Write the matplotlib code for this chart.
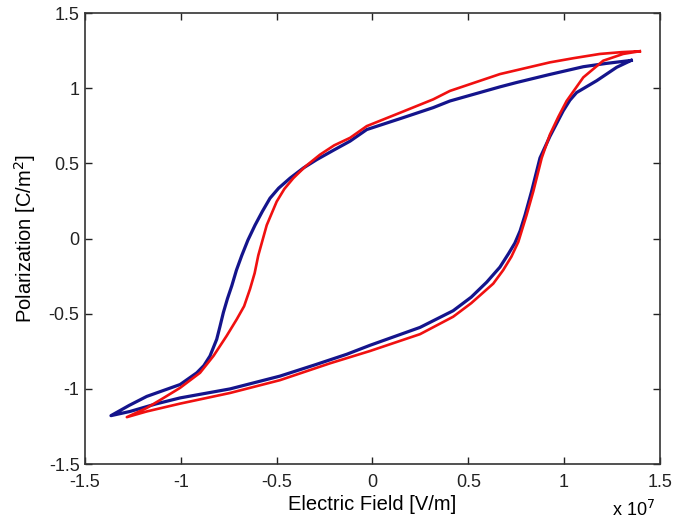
import matplotlib
matplotlib.use("Agg")
import matplotlib.pyplot as plt

plt.rcParams['font.family'] = ['Liberation Sans', 'DejaVu Sans']

# Electric field in units of 1e7 V/m, polarization in C/m^2
# Blue loop: upper branch (field decreasing), lower branch (field increasing)
E_blue_up = [1.35, 1.22, 1.10, 0.92, 0.752, 0.665, 0.404, 0.317, 0.15, -0.03, -0.117,
             -0.2, -0.291, -0.36, -0.43, -0.49, -0.535, -0.575, -0.613, -0.65,
             -0.682, -0.71, -0.734, -0.757, -0.778, -0.797, -0.813, -0.848, -0.88,
             -0.917, -1.004, -1.09, -1.178, -1.27, -1.365]
P_blue_up = [1.185, 1.165, 1.143, 1.09, 1.038, 1.009, 0.915, 0.871, 0.80, 0.725, 0.648,
             0.59, 0.525, 0.47, 0.402, 0.335, 0.268, 0.18, 0.089, -0.01,
             -0.112, -0.21, -0.313, -0.40, -0.491, -0.59, -0.67, -0.781, -0.845,
             -0.893, -0.971, -1.01, -1.05, -1.11, -1.178]
E_blue_low = [-1.365, -1.265, -1.13, -1.004, -0.743, -0.483, -0.30, -0.135, -0.013,
              0.248, 0.421, 0.515, 0.596, 0.665, 0.71, 0.743, 0.77, 0.796, 0.83,
              0.874, 0.926, 0.995, 1.03, 1.065, 1.17, 1.274, 1.35]
P_blue_low = [-1.178, -1.15, -1.10, -1.06, -1.0, -0.915, -0.84, -0.77, -0.71,
              -0.591, -0.48, -0.39, -0.29, -0.19, -0.10, -0.03, 0.05, 0.156, 0.313,
              0.536, 0.68, 0.849, 0.92, 0.971, 1.05, 1.139, 1.185]

# Red loop
E_red_up = [1.395, 1.30, 1.187, 1.05, 0.926, 0.665, 0.404, 0.317, 0.15, -0.03, -0.117,
            -0.2, -0.274, -0.35, -0.413, -0.46, -0.5, -0.552, -0.596, -0.615, -0.639,
            -0.67, -0.708, -0.761, -0.83, -0.9, -1.004, -1.09, -1.178, -1.282]
P_red_up = [1.246, 1.24, 1.228, 1.20, 1.172, 1.094, 0.982, 0.926, 0.84, 0.748, 0.67,
            0.62, 0.558, 0.48, 0.402, 0.33, 0.246, 0.089, -0.112, -0.23, -0.335,
            -0.45, -0.536, -0.647, -0.781, -0.893, -0.993, -1.06, -1.127, -1.188]
E_red_low = [-1.282, -1.178, -1.004, -0.743, -0.483, -0.222, -0.013, 0.248, 0.421,
             0.515, 0.63, 0.682, 0.725, 0.761, 0.804, 0.839, 0.883, 0.926, 0.97,
             1.013, 1.1, 1.204, 1.308, 1.395]
P_red_low = [-1.188, -1.15, -1.098, -1.027, -0.942, -0.83, -0.748, -0.636, -0.52,
             -0.43, -0.30, -0.21, -0.12, -0.022, 0.156, 0.313, 0.536, 0.692, 0.81,
             0.915, 1.072, 1.183, 1.228, 1.246]

xticks = [-1.5, -1, -0.5, 0, 0.5, 1, 1.5]
yticks = [-1.5, -1, -0.5, 0, 0.5, 1, 1.5]
xtick_labels = ['-1.5', '-1', '-0.5', '0', '0.5', '1', '1.5']
ytick_labels = ['-1.5', '-1', '-0.5', '0', '0.5', '1', '1.5']

fig = plt.figure(figsize=(6.86, 5.22), dpi=100)
ax = fig.add_axes([0.124, 0.111, 0.838, 0.864])

ax.plot(E_blue_up + E_blue_low, P_blue_up + P_blue_low, color='#14148c', lw=2.3,
        solid_joinstyle='round')
ax.plot(E_red_up + E_red_low, P_red_up + P_red_low, color='#f01010', lw=1.9,
        solid_joinstyle='round')

ax.set_xlim(-1.5, 1.5)
ax.set_ylim(-1.5, 1.5)
ax.set_xticks(xticks)
ax.set_xticklabels(xtick_labels)
ax.set_yticks(yticks)
ax.set_yticklabels(ytick_labels)
ax.tick_params(direction='in', top=True, right=True, length=5, width=1,
               labelsize=13, colors='#222222')
ax.tick_params(axis='x', pad=7)
ax.tick_params(axis='y', pad=4)
for s in ax.spines.values():
    s.set_linewidth(1.2)
    s.set_color('#333333')

ax.set_xlabel('Electric Field [V/m]', fontsize=14.5, labelpad=3)
ax.set_ylabel('Polarization [C/m$^2$]', fontsize=14.5, labelpad=8)
fig.text(655 / 686, 2 / 522, r'x 10$^7$', ha='right', va='bottom', fontsize=13)

fig.savefig('out.png', dpi=100, facecolor='white')
